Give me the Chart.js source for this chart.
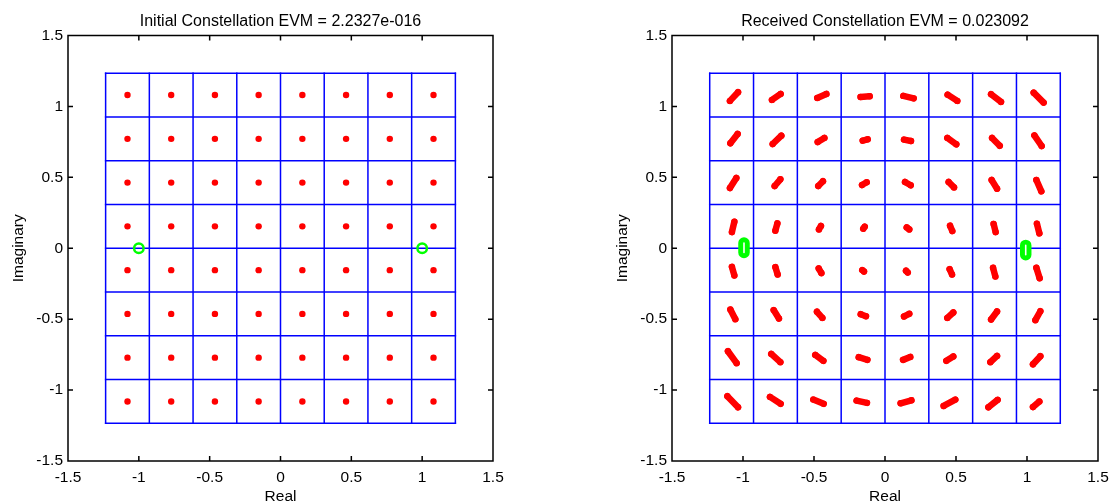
<!DOCTYPE html>
<html>
<head>
<meta charset="utf-8">
<script src="https://cdn.jsdelivr.net/npm/chart.js@4.4.1/dist/chart.umd.min.js"></script>
<style>
  body { margin: 0; background: #fff; }
  #wrap { position: relative; width: 1109px; height: 504px; }
  canvas { position: absolute; top: 0; }
</style>
</head>
<body>
<div id="wrap">
  <canvas id="initialChart" width="554" height="504" style="left:0"></canvas>
  <canvas id="receivedChart" width="555" height="504" style="left:554px"></canvas>
</div>
<script>
// axis ticks shared by both plots
const axisTicks = [-1.5, -1, -0.5, 0, 0.5, 1, 1.5];

// 64-QAM levels (same for I and Q) and decision grid edges
const qamLevels = [-1.0801, -0.7715, -0.4629, -0.1543, 0.1543, 0.4629, 0.7715, 1.0801];
const gridEdges = [-1.2344, -0.9258, -0.6172, -0.3086, 0, 0.3086, 0.6172, 0.9258, 1.2344];

// pilot symbols (green)
const pilotX = [-1, 1];
const pilotY = [0, 0];
const rxPilotX = [-0.993, 0.991];
const rxPilotTop = [0.037, 0.020];
const rxPilotBottom = [-0.030, -0.046];

// received symbols: each one smeared into a short arc, start -> end (row by row, top to bottom)
const rxStartX = [
  -1.092, -0.796, -0.477, -0.172, 0.129, 0.441, 0.747, 1.047,
  -1.089, -0.791, -0.474, -0.157, 0.134, 0.439, 0.754, 1.052,
  -1.092, -0.777, -0.470, -0.162, 0.141, 0.448, 0.751, 1.066,
  -1.078, -0.772, -0.465, -0.153, 0.153, 0.458, 0.765, 1.070,
  -1.078, -0.772, -0.467, -0.160, 0.148, 0.455, 0.761, 1.066,
  -1.089, -0.784, -0.479, -0.171, 0.134, 0.439, 0.747, 1.059,
  -1.106, -0.801, -0.491, -0.185, 0.127, 0.432, 0.742, 1.042,
  -1.110, -0.810, -0.505, -0.200, 0.110, 0.413, 0.728, 1.042
];
const rxStartY = [
  1.039, 1.046, 1.060, 1.066, 1.074, 1.083, 1.086, 1.097,
  0.740, 0.735, 0.749, 0.759, 0.766, 0.778, 0.778, 0.796,
  0.425, 0.439, 0.439, 0.446, 0.467, 0.467, 0.481, 0.481,
  0.114, 0.124, 0.133, 0.138, 0.147, 0.159, 0.171, 0.173,
  -0.131, -0.133, -0.142, -0.154, -0.159, -0.147, -0.138, -0.138,
  -0.432, -0.436, -0.448, -0.465, -0.481, -0.491, -0.502, -0.507,
  -0.726, -0.745, -0.752, -0.768, -0.787, -0.794, -0.803, -0.818,
  -1.043, -1.048, -1.067, -1.074, -1.093, -1.112, -1.121, -1.119
];
const rxEndX = [
  -1.035, -0.735, -0.413, -0.108, 0.202, 0.509, 0.817, 1.117,
  -1.038, -0.730, -0.427, -0.122, 0.183, 0.502, 0.808, 1.103,
  -1.047, -0.737, -0.437, -0.129, 0.181, 0.486, 0.789, 1.101,
  -1.061, -0.758, -0.451, -0.143, 0.171, 0.474, 0.779, 1.087,
  -1.061, -0.756, -0.448, -0.148, 0.160, 0.472, 0.777, 1.089,
  -1.054, -0.747, -0.441, -0.134, 0.171, 0.481, 0.789, 1.094,
  -1.045, -0.737, -0.434, -0.124, 0.178, 0.481, 0.789, 1.094,
  -1.035, -0.735, -0.432, -0.127, 0.186, 0.495, 0.793, 1.087
];
const rxEndY = [
  1.100, 1.088, 1.088, 1.072, 1.057, 1.039, 1.032, 1.027,
  0.806, 0.794, 0.778, 0.768, 0.756, 0.733, 0.723, 0.721,
  0.495, 0.486, 0.472, 0.465, 0.444, 0.429, 0.420, 0.401,
  0.187, 0.175, 0.157, 0.152, 0.133, 0.121, 0.114, 0.105,
  -0.192, -0.185, -0.175, -0.164, -0.171, -0.185, -0.199, -0.211,
  -0.500, -0.495, -0.491, -0.479, -0.462, -0.453, -0.446, -0.444,
  -0.810, -0.803, -0.794, -0.787, -0.766, -0.763, -0.759, -0.761,
  -1.121, -1.097, -1.097, -1.090, -1.072, -1.067, -1.069, -1.081
];

const FONT = '"Liberation Sans", Arial, sans-serif';
const RED = '#ff0000';
const BLUE = '#0000ff';
const GREEN = '#00ff00';

function lineSet(data, color, width, order, cap) {
  return {
    data: data,
    showLine: true,
    borderColor: color,
    borderWidth: width,
    borderCapStyle: cap || 'butt',
    pointRadius: 0,
    fill: false,
    order: order
  };
}

function gridSets() {
  const lo = gridEdges[0], hi = gridEdges[gridEdges.length - 1];
  const sets = [];
  gridEdges.forEach(g => {
    sets.push(lineSet([{x: g, y: lo}, {x: g, y: hi}], BLUE, 1.5, 4, 'square'));
    sets.push(lineSet([{x: lo, y: g}, {x: hi, y: g}], BLUE, 1.5, 4, 'square'));
  });
  return sets;
}

// MATLAB style box with inward ticks, plus a title centred over the axes
const boxPlugin = {
  id: 'matlabBox',
  afterDatasetsDraw(chart, args, opts) {
    const {ctx, chartArea: a, scales: {x, y}} = chart;
    ctx.save();
    ctx.strokeStyle = '#000';
    ctx.lineWidth = 1.5;
    ctx.strokeRect(a.left, a.top, a.right - a.left, a.bottom - a.top);
    ctx.beginPath();
    axisTicks.slice(1, -1).forEach(v => {
      const px = x.getPixelForValue(v), py = y.getPixelForValue(v);
      ctx.moveTo(px, a.bottom); ctx.lineTo(px, a.bottom - 5);
      ctx.moveTo(px, a.top); ctx.lineTo(px, a.top + 5);
      ctx.moveTo(a.left, py); ctx.lineTo(a.left + 5, py);
      ctx.moveTo(a.right, py); ctx.lineTo(a.right - 5, py);
    });
    ctx.stroke();

    ctx.fillStyle = '#000';
    ctx.font = '16px ' + FONT;
    ctx.textAlign = 'center';
    ctx.textBaseline = 'middle';
    ctx.fillText(opts.text, (a.left + a.right) / 2, a.top - 14);
    ctx.restore();
  }
};

function scaleCfg(axis, titleText) {
  return {
    type: 'linear',
    min: -1.5,
    max: 1.5,
    afterBuildTicks: s => { s.ticks = axisTicks.map(v => ({value: v})); },
    grid: {display: false, drawTicks: false},
    border: {display: false},
    ticks: {
      color: '#000',
      font: {family: FONT, size: 15.5},
      padding: axis === 'x' ? 7 : 5,
      autoSkip: false,
      maxRotation: 0,
      callback: v => String(v)
    },
    title: {
      display: true,
      text: titleText,
      color: '#000',
      font: {family: FONT, size: 15.5, lineHeight: 1},
      padding: axis === 'x' ? {top: 0, bottom: 0} : {top: 11, bottom: 0}
    },
    afterFit: s => {
      if (axis === 'x') s.height = 43; else s.width = 68;
      s.paddingLeft = 0; s.paddingRight = 0;
      s.paddingTop = 0; s.paddingBottom = 0;
    }
  };
}

function makeChart(id, titleText, datasets, padLeft, padRight) {
  return new Chart(document.getElementById(id), {
    type: 'scatter',
    data: {datasets: datasets},
    options: {
      responsive: false,
      animation: false,
      events: [],
      layout: {padding: {left: padLeft, right: padRight, top: 35.5, bottom: 0}},
      scales: {
        x: scaleCfg('x', 'Real'),
        y: scaleCfg('y', 'Imaginary')
      },
      plugins: {
        legend: {display: false},
        tooltip: {enabled: false},
        title: {display: false},
        matlabBox: {text: titleText}
      }
    },
    plugins: [boxPlugin]
  });
}

// left: ideal constellation
const idealPoints = [];
qamLevels.forEach(q => qamLevels.forEach(i => idealPoints.push({x: i, y: q})));

const initialSets = gridSets();
initialSets.push({
  data: idealPoints,
  pointRadius: 3.2,
  pointBackgroundColor: RED,
  pointBorderWidth: 0,
  order: 2
});
initialSets.push({
  data: pilotX.map((v, k) => ({x: v, y: pilotY[k]})),
  pointRadius: 4.75,
  pointBorderColor: GREEN,
  pointBorderWidth: 2.5,
  pointBackgroundColor: 'rgba(0,0,0,0)',
  order: 0
});
makeChart('initialChart', 'Initial Constellation EVM = 2.2327e-016', initialSets, 0, 61);

// right: received constellation
const receivedSets = gridSets();
rxStartX.forEach((sx, k) => {
  const ds = lineSet([{x: sx, y: rxStartY[k]}, {x: rxEndX[k], y: rxEndY[k]}], RED, 6.5, 2, 'round');
  ds.pointRadius = 3.2;
  ds.pointBackgroundColor = RED;
  ds.pointBorderWidth = 0;
  receivedSets.push(ds);
});
rxPilotX.forEach((px, k) => {
  const pts = [{x: px, y: rxPilotTop[k]}, {x: px, y: rxPilotBottom[k]}];
  receivedSets.push(lineSet(pts, GREEN, 11.5, 1, 'round'));
  receivedSets.push(lineSet(pts, '#ffffff', 1.6, 0, 'round'));
});
makeChart('receivedChart', 'Received Constellation EVM = 0.023092', receivedSets, 50, 11);
</script>
</body>
</html>
